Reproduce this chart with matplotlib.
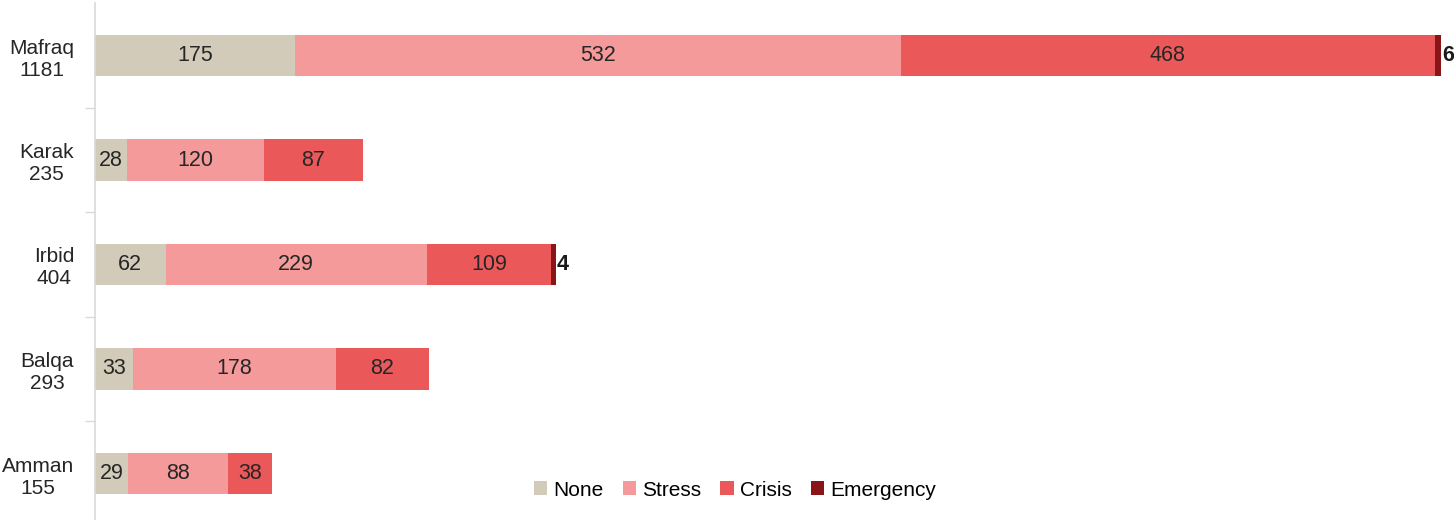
import matplotlib
matplotlib.use("Agg")
import matplotlib.pyplot as plt
import numpy as np

plt.rcParams['font.family'] = ['Liberation Sans', 'DejaVu Sans']

regions = ["Mafraq", "Karak", "Irbid", "Balqa", "Amman"]
totals = [1181, 235, 404, 293, 155]
none_vals = [175, 28, 62, 33, 29]
stress_vals = [532, 120, 229, 178, 88]
crisis_vals = [468, 87, 109, 82, 38]
emergency_vals = [6, 0, 4, 0, 0]

series_names = ["None", "Stress", "Crisis", "Emergency"]
colors = ["#D3CBB9", "#F49A9B", "#EB585A", "#8A1519"]

fig = plt.figure(figsize=(14.54, 5.2), dpi=100)
ax = fig.add_axes([95/1454, -5.75/520, 1359/1454, 522.5/520])

n = len(regions)
y = np.arange(n)[::-1]  # Mafraq at top
bar_h = 0.395
left = np.zeros(n)
series = [none_vals, stress_vals, crisis_vals, emergency_vals]
for name, vals, col in zip(series_names, series, colors):
    vals = np.array(vals, dtype=float)
    ax.barh(y, vals, left=left, height=bar_h, color=col, label=name, edgecolor='none')
    for yi, l, v in zip(y, left, vals):
        if v <= 0:
            continue
        if name == "Emergency":
            ax.text(l + v + 1, yi, f"{int(v)}", ha='left', va='center',
                    fontsize=15.5, fontweight='bold', color='#1a1a1a')
        else:
            ax.text(l + v / 2, yi, f"{int(v)}", ha='center', va='center',
                    fontsize=15.5, color='#262626')
    left = left + vals

ax.set_xlim(0, 1192)
ax.set_ylim(-0.5, n - 0.5)
ax.set_xticks([])
ax.set_yticks(y)
ax.set_yticklabels([f"{r}\n{t}" for r, t in zip(regions, totals)], fontsize=15,
                   color='#262626', multialignment='center', linespacing=1.2)
ax.tick_params(axis='y', which='major', length=0, pad=15)
ax.set_yticks(np.arange(n - 1) + 0.5, minor=True)
ax.tick_params(axis='y', which='minor', length=7, color='#D9D9D9', width=1)
for s in ['top', 'right', 'bottom']:
    ax.spines[s].set_visible(False)
ax.spines['left'].set_color('#D9D9D9')
ax.spines['left'].set_linewidth(1.2)

leg = ax.legend(loc='center', ncol=4, frameon=False, fontsize=15,
                handlelength=0.65, handleheight=0.65,
                handletextpad=0.3, columnspacing=0.9)
leg.set_bbox_to_anchor((735/1454, 30/520), transform=fig.transFigure)

fig.savefig("out.png", dpi=100)
